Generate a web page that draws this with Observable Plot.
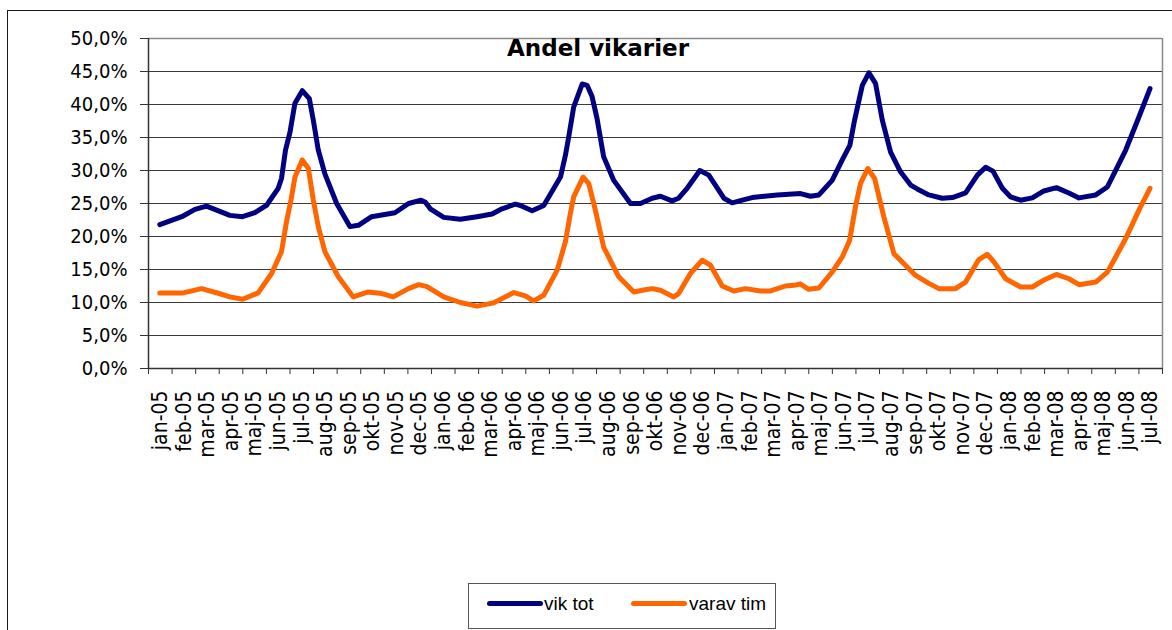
<!DOCTYPE html>
<html>
<head>
<meta charset="utf-8">
<script src="https://cdn.jsdelivr.net/npm/d3@7"></script>
<script src="https://cdn.jsdelivr.net/npm/@observablehq/plot@0.6"></script>
<style>
html,body{margin:0;padding:0;background:#fff;width:1172px;height:630px;overflow:hidden;}
#wrap{position:relative;width:1172px;height:630px;}
#chart{position:absolute;left:0;top:0;}
#frame{position:absolute;left:7px;top:10px;width:1190px;height:650px;border:1.5px solid #1a1a1a;box-sizing:border-box;}
#title{position:absolute;left:0;width:1196px;top:37px;text-align:center;font-weight:bold;font-size:23px;font-family:'DejaVu Sans',sans-serif;line-height:1;color:#000;}
#legend{position:absolute;left:468px;top:583px;width:308px;height:46px;border:1px solid #555;box-sizing:border-box;font-family:'Liberation Sans',Arial,sans-serif;font-size:19px;color:#000;}
.sw{position:absolute;top:17px;width:56px;height:5px;border-radius:3px;}
.lb{position:absolute;top:9px;line-height:21px;}
</style>
</head>
<body>
<div id="wrap">
  <div id="frame"></div>
  <div id="chart"></div>
  <div id="title"></div>
  <div id="legend"></div>
</div>
<script>
// ---- data ----
const chartTitle = "Andel vikarier";
const seriesNames = ["vik tot", "varav tim"];
const seriesColors = ["#000080", "#FF6600"];
const monthNames = ["jan","feb","mar","apr","maj","jun","jul","aug","sep","okt","nov","dec"];
const yearNames = ["05","06","07","08"];
const monthCount = 43; // jan-05 .. jul-08
const yTicks = [0,5,10,15,20,25,30,35,40,45,50];

// position = months since start of jan-05 (fractional), value = percent
const vikPos = [0.48,1.47,1.97,2.46,3.45,3.99,4.51,5.0,5.5,5.64,5.81,6.0,6.21,6.52,6.82,6.99,7.2,7.48,7.98,8.54,8.9,9.46,10.45,11.03,11.56,11.74,11.95,12.52,13.22,13.93,14.57,14.99,15.56,15.77,16.27,16.76,17.47,17.68,17.82,18.03,18.39,18.6,18.81,19.02,19.3,19.73,20.44,20.86,21.36,21.71,22.2,22.48,22.84,23.38,23.76,24.4,24.75,25.18,25.6,26.66,27.65,28.07,28.43,28.99,29.42,29.74,29.94,30.27,30.55,30.83,31.12,31.47,31.89,32.32,32.6,33.09,33.66,34.09,34.65,35.15,35.5,35.81,36.21,36.56,36.98,37.48,37.97,38.5,39.03,39.46,40.17,40.66,40.94,41.44,42.0,42.47];
const vikVal = [21.8,23.1,24.1,24.6,23.2,23.0,23.6,24.7,27.3,28.8,33.1,35.8,40.2,42.1,40.9,37.6,33.1,29.5,25.0,21.5,21.7,23.0,23.6,25.0,25.5,25.2,24.2,22.9,22.6,23.0,23.4,24.2,24.9,24.7,23.9,24.7,29.0,32.3,35.1,39.6,43.1,42.9,41.2,37.9,32.1,28.5,25.0,25.0,25.8,26.1,25.4,25.8,27.3,30.0,29.3,25.8,25.1,25.5,25.9,26.3,26.5,26.1,26.3,28.5,31.6,33.8,37.6,42.9,44.8,43.2,37.6,32.8,29.8,27.8,27.2,26.3,25.8,25.9,26.6,29.3,30.5,29.9,27.3,26.0,25.5,25.85,26.9,27.4,26.6,25.85,26.3,27.5,29.5,33.1,38.1,42.4];

const timPos = [0.48,1.47,2.25,2.96,3.45,3.99,4.65,5.22,5.64,5.85,6.04,6.21,6.52,6.78,6.99,7.2,7.48,8.05,8.68,9.32,9.89,10.38,11.02,11.46,11.81,12.52,13.22,13.93,14.64,15.49,15.98,16.33,16.76,17.33,17.68,17.89,18.03,18.43,18.67,18.95,19.3,19.94,20.58,21.0,21.36,21.71,22.27,22.48,22.98,23.48,23.83,24.33,24.82,25.32,25.95,26.38,27.01,27.37,27.65,28.0,28.43,28.99,29.42,29.73,29.98,30.19,30.5,30.79,31.18,31.61,32.1,32.53,33.09,33.52,34.22,34.65,35.21,35.57,35.85,36.35,36.98,37.48,37.97,38.5,39.03,39.46,40.17,40.66,40.94,41.44,42.0,42.47];
const timVal = [11.45,11.45,12.1,11.4,10.85,10.5,11.45,14.4,17.7,22.2,25.5,29.0,31.6,30.3,25.5,21.5,17.7,13.9,10.85,11.6,11.35,10.85,12.1,12.7,12.4,10.85,10.0,9.45,9.95,11.5,11.0,10.25,11.1,14.9,19.2,23.5,26.0,29.0,28.0,24.0,18.4,13.9,11.6,11.9,12.1,11.85,10.85,11.35,14.4,16.4,15.65,12.5,11.75,12.1,11.75,11.75,12.5,12.6,12.8,12.0,12.2,14.6,16.9,19.4,24.5,28.0,30.3,28.8,23.0,17.4,15.65,14.1,12.9,12.1,12.1,13.1,16.5,17.3,16.15,13.6,12.35,12.35,13.4,14.25,13.6,12.7,13.1,14.6,16.4,19.7,24.0,27.3];

// ---- build ----
const tickLabels = [];
for (const y of yearNames) for (const m of monthNames) tickLabels.push(m + "-" + y);
tickLabels.length = monthCount;

const vik = vikPos.map((p, i) => ({pos: p, val: vikVal[i]}));
const tim = timPos.map((p, i) => ({pos: p, val: timVal[i]}));

const fontAxis = "'DejaVu Sans Condensed','DejaVu Sans',sans-serif";

const chart = Plot.plot({
  width: 1172,
  height: 630,
  marginLeft: 148,
  marginRight: 10,
  marginTop: 38,
  marginBottom: 262,
  x: {type: "linear", domain: [0, monthCount]},
  y: {domain: [0, 50]},
  style: {fontFamily: fontAxis, fontSize: "20px", color: "#000", background: "transparent", fontStretch: "condensed"},
  marks: [
    Plot.ruleY(yTicks.filter(d => d > 0 && d < 50), {stroke: "#3a3a3a", strokeWidth: 1}),
    Plot.ruleY([50], {stroke: "#8a8a8a", strokeWidth: 1.5}),
    Plot.ruleX([monthCount], {stroke: "#8a8a8a", strokeWidth: 1.5}),
    Plot.ruleX([0], {stroke: "#333", strokeWidth: 1.5}),
    Plot.ruleY([0], {stroke: "#333", strokeWidth: 1.5}),
    Plot.axisY({ticks: yTicks, tickSize: 8, tickPadding: 13, label: null, stroke: "#333", fill: "#000",
      tickFormat: d => d.toFixed(1).replace(".", ",") + "%"}),
    Plot.axisX({ticks: d3.range(0, monthCount + 1), tickSize: 6, label: null, stroke: "#333", tickFormat: () => ""}),
    Plot.axisX({ticks: d3.range(monthCount).map(i => i + 0.5), tickSize: 0, tickPadding: 22, tickRotate: -90,
      label: null, fill: "#000", fontSize: 21, tickFormat: v => tickLabels[Math.floor(v)]}),
    Plot.line(vik, {x: "pos", y: "val", stroke: seriesColors[0], strokeWidth: 5, strokeLinejoin: "round", strokeLinecap: "round"}),
    Plot.line(tim, {x: "pos", y: "val", stroke: seriesColors[1], strokeWidth: 5, strokeLinejoin: "round", strokeLinecap: "round"})
  ]
});
document.getElementById("chart").appendChild(chart);
document.getElementById("title").textContent = chartTitle;

const legend = document.getElementById("legend");
const swLeft = [18, 162], lbLeft = [75, 220];
seriesNames.forEach((name, i) => {
  const sw = document.createElement("div");
  sw.className = "sw"; sw.style.left = swLeft[i] + "px"; sw.style.background = seriesColors[i];
  const lb = document.createElement("div");
  lb.className = "lb"; lb.style.left = lbLeft[i] + "px"; lb.textContent = name;
  legend.appendChild(sw); legend.appendChild(lb);
});
</script>
</body>
</html>
